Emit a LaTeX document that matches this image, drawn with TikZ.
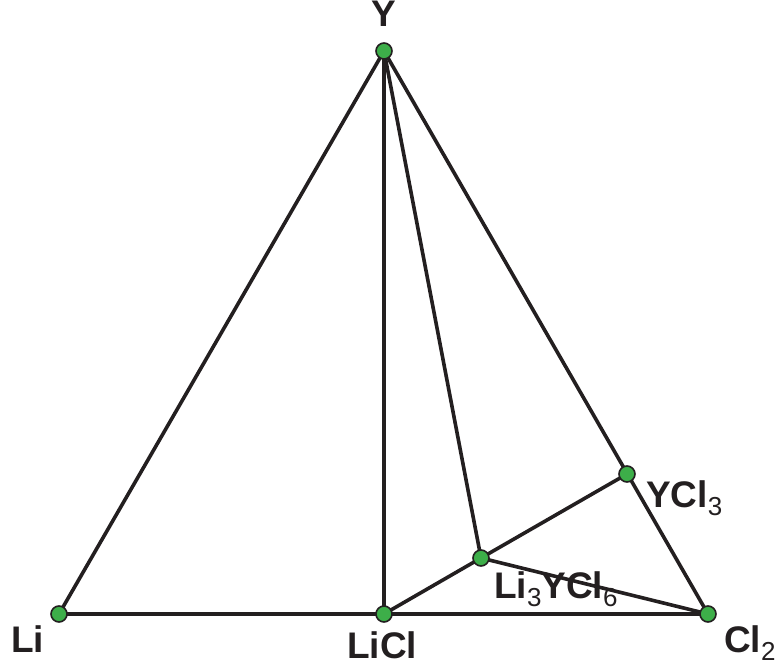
\documentclass[tikz,border=0pt]{standalone}
\usepackage{fontspec}
\setmainfont{Liberation Sans}
\definecolor{ln}{HTML}{231F20}
\definecolor{dotg}{HTML}{3DAE49}
\newcommand{\lbsub}[1]{{\fontsize{26}{26}\selectfont\mdseries\raisebox{-8pt}{#1}}}
\begin{document}
\begin{tikzpicture}[x=1pt,y=-1pt,
  edge/.style={draw=ln,line width=3.6pt},
  pt/.style={circle,fill=dotg,draw=ln,line width=1.6pt,minimum size=16pt,inner sep=0pt},
  lbl/.style={inner sep=0pt,font=\fontsize{37}{40}\selectfont\bfseries,text=ln}]
\useasboundingbox (0,0) rectangle (779,668);
\coordinate (Y) at (384,51);
\coordinate (Li) at (59,614);
\coordinate (LiCl) at (384,614);
\coordinate (Cl2) at (708,614);
\coordinate (YCl3) at (627,474);
\coordinate (L3) at (481,558);
\draw[edge,line join=round] (Li) -- (Y) -- (Cl2) -- (Li);
\draw[edge] (Y) -- (LiCl);
\draw[edge] (Y) -- (L3);
\draw[edge] (LiCl) -- (L3) -- (YCl3);
\draw[edge] (L3) -- (Cl2);
\foreach \p in {Y,Li,LiCl,Cl2,YCl3,L3} \node[pt] (d\p) at (\p) {};
\node[lbl,anchor=base] (tY) at (384,27) {Y};
\node[lbl,anchor=base west] (tLi) at (11,652) {Li};
\node[lbl,anchor=base west] (tLiCl) at (347,658) {LiCl};
\node[lbl,anchor=base west] (tCl2) at (724,652) {Cl\lbsub{2}};
\node[lbl,anchor=base west] (tYCl3) at (646,507) {YCl\lbsub{3}};
\node[lbl,anchor=base west] (tL3) at (494,598) {Li\lbsub{3}YCl\lbsub{6}};
\end{tikzpicture}
\end{document}
